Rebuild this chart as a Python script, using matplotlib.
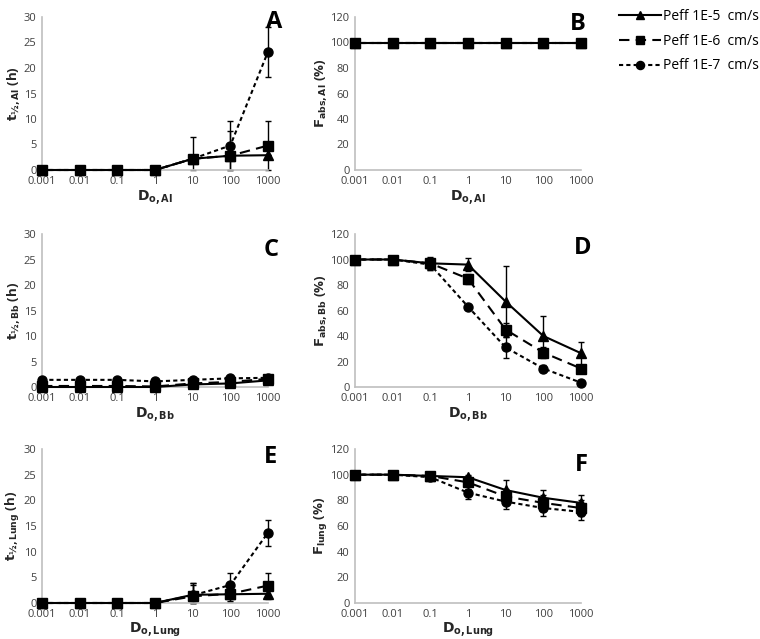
import matplotlib
matplotlib.use("Agg")
import matplotlib.pyplot as plt
import numpy as np

plt.rcParams['font.family'] = ['Open Sans', 'DejaVu Sans']
plt.rcParams['mathtext.fontset'] = 'dejavusans'

categories = ["0.001", "0.01", "0.1", "1", "10", "100", "1000"]
series_names = ["Peff 1E-5  cm/s", "Peff 1E-6  cm/s", "Peff 1E-7  cm/s"]

# Panel A: t1/2,Al (h)
A_e5 = [0, 0, 0, 0, 2.2, 2.8, 2.9]
A_e6 = [0, 0, 0, 0, 2.2, 2.8, 4.8]
A_e7 = [0, 0, 0, 0, 2.2, 4.8, 23.2]
A_e5_err = [0, 0, 0, 0, 0, 0, 0]
A_e6_err = [0, 0, 0, 0, 4.2, 4.8, 4.9]
A_e7_err = [0, 0, 0, 0, 0, 4.9, 4.9]

# Panel B: Fabs,Al (%)
B_e5 = [100, 100, 100, 100, 100, 100, 100]
B_e6 = [100, 100, 100, 100, 100, 100, 100]
B_e7 = [100, 100, 100, 100, 100, 100, 100]

# Panel C: t1/2,Bb (h)
C_e5 = [0.0, 0.0, 0.0, 0.0, 0.5, 0.7, 1.3]
C_e6 = [0.2, 0.2, 0.2, 0.1, 0.7, 1.0, 1.6]
C_e7 = [1.4, 1.4, 1.4, 1.1, 1.4, 1.7, 1.8]

# Panel D: Fabs,Bb (%)
D_e5 = [100, 100, 97, 96, 67, 40, 26.5]
D_e6 = [100, 100, 97, 85, 45, 27, 14.5]
D_e7 = [100, 100, 96, 63, 31, 14.5, 3.4]
D_e5_err = [0, 0, 5, 5, 28, 16, 9]
D_e6_err = [0, 0, 4, 4, 5, 4, 3]
D_e7_err = [0, 0, 4, 1, 8, 3, 1]

# Panel E: t1/2,Lung (h)
E_e5 = [0, 0, 0, 0, 1.6, 1.7, 1.8]
E_e6 = [0, 0, 0, 0, 1.3, 1.8, 3.4]
E_e7 = [0, 0, 0, 0, 1.5, 3.5, 13.7]
E_e5_err = [0, 0, 0, 0, 2.3, 1.5, 1.0]
E_e6_err = [0, 0, 0, 0, 2.3, 1.5, 2.5]
E_e7_err = [0, 0, 0, 0, 2.3, 2.3, 2.5]

# Panel F: Flung (%)
F_e5 = [100, 100, 99, 98, 88, 82, 78]
F_e6 = [100, 100, 99, 94, 83, 78, 74]
F_e7 = [100, 100, 98, 86, 79, 74, 71]
F_e5_err = [0, 0, 1, 2, 8, 6, 6]
F_e6_err = [0, 0, 1, 5, 6, 6, 6]
F_e7_err = [0, 0, 1, 5, 6, 6, 6]

styles = [dict(ls='-', marker='^', ms=6.5),
          dict(ls=(0, (5, 3)), marker='s', ms=6.5),
          dict(ls=(0, (2, 1.5)), marker='o', ms=6.5)]

fig = plt.figure(figsize=(7.6, 6.39), dpi=100)

W = 226 / 760
lefts = [42 / 760, 355 / 760]
rows = [(17, 170), (234, 387), (449, 603)]

def make_ax(col, row):
    top, bot = rows[row]
    return fig.add_axes([lefts[col], (639 - bot) / 639, W, (bot - top) / 639])

def panel(ax, data, errs, ymax, ystep, ylabel, xlabel, letter, lx, ly):
    x = np.arange(len(categories))
    for i, (vals, st) in enumerate(zip(data, styles)):
        v = np.asarray(vals, dtype=float)
        if errs is not None:
            e = np.asarray(errs[i], dtype=float)
            lo = np.minimum(e, v)
            ax.errorbar(x, v, yerr=[lo, e], fmt='none', ecolor='black',
                        elinewidth=1.0, capsize=2.5, capthick=1.0,
                        clip_on=False, zorder=2)
        ax.plot(x, v, color='black', lw=1.5, ls=st['ls'],
                marker=st['marker'], ms=st['ms'], mfc='black', mec='black',
                clip_on=False, zorder=3, label=series_names[i])
    ax.set_xlim(0, len(categories) - 1)
    ax.set_ylim(0, ymax)
    ax.set_yticks(np.arange(0, ymax + 0.1, ystep))
    ax.set_xticks(x)
    ax.set_xticklabels(categories)
    for s in ['top', 'right']:
        ax.spines[s].set_visible(False)
    for s in ['left', 'bottom']:
        ax.spines[s].set_color('#bfbfbf')
        ax.spines[s].set_linewidth(1.2)
    ax.tick_params(length=0, labelsize=8, colors='#404040', pad=4)
    ax.set_ylabel(ylabel, fontsize=9.5, fontweight='bold', color='#262626', labelpad=1)
    ax.set_xlabel(xlabel, fontsize=10, fontweight='bold', color='#262626', labelpad=1)
    ax.text(lx, ly, letter, transform=ax.transAxes, fontsize=17,
            fontweight='bold', ha='center', va='center')

axA = make_ax(0, 0)
panel(axA, [A_e5, A_e6, A_e7], [A_e5_err, A_e6_err, A_e7_err], 30, 5,
      r'$\mathbf{t_{½,Al}}$ (h)', r'$\mathbf{D_{o,Al}}$', 'A', 1.027, 0.965)
axB = make_ax(1, 0)
panel(axB, [B_e5, B_e6, B_e7], None, 120, 20,
      r'$\mathbf{F_{abs,Al}}$ (%)', r'$\mathbf{D_{o,Al}}$', 'B', 0.985, 0.955)
axC = make_ax(0, 1)
panel(axC, [C_e5, C_e6, C_e7], None, 30, 5,
      r'$\mathbf{t_{½,Bb}}$ (h)', r'$\mathbf{D_{o,Bb}}$', 'C', 1.013, 0.895)
axD = make_ax(1, 1)
panel(axD, [D_e5, D_e6, D_e7], [D_e5_err, D_e6_err, D_e7_err], 120, 20,
      r'$\mathbf{F_{abs,Bb}}$ (%)', r'$\mathbf{D_{o,Bb}}$', 'D', 1.009, 0.908)
axE = make_ax(0, 2)
panel(axE, [E_e5, E_e6, E_e7], [E_e5_err, E_e6_err, E_e7_err], 30, 5,
      r'$\mathbf{t_{½,Lung}}$ (h)', r'$\mathbf{D_{o,Lung}}$', 'E', 1.013, 0.948)
axF = make_ax(1, 2)
panel(axF, [F_e5, F_e6, F_e7], [F_e5_err, F_e6_err, F_e7_err], 120, 20,
      r'$\mathbf{F_{lung}}$ (%)', r'$\mathbf{D_{o,Lung}}$', 'F', 1.0, 0.896)

handles, labels = axB.get_legend_handles_labels()
fig.legend(handles, labels, loc='upper left', bbox_to_anchor=(619 / 760, 1 - 9 / 639),
           frameon=False, fontsize=10, handlelength=3.0, handletextpad=0.2,
           labelspacing=0.7, borderaxespad=0, borderpad=0, markerscale=0.9)

fig.savefig('out.png', dpi=100)
